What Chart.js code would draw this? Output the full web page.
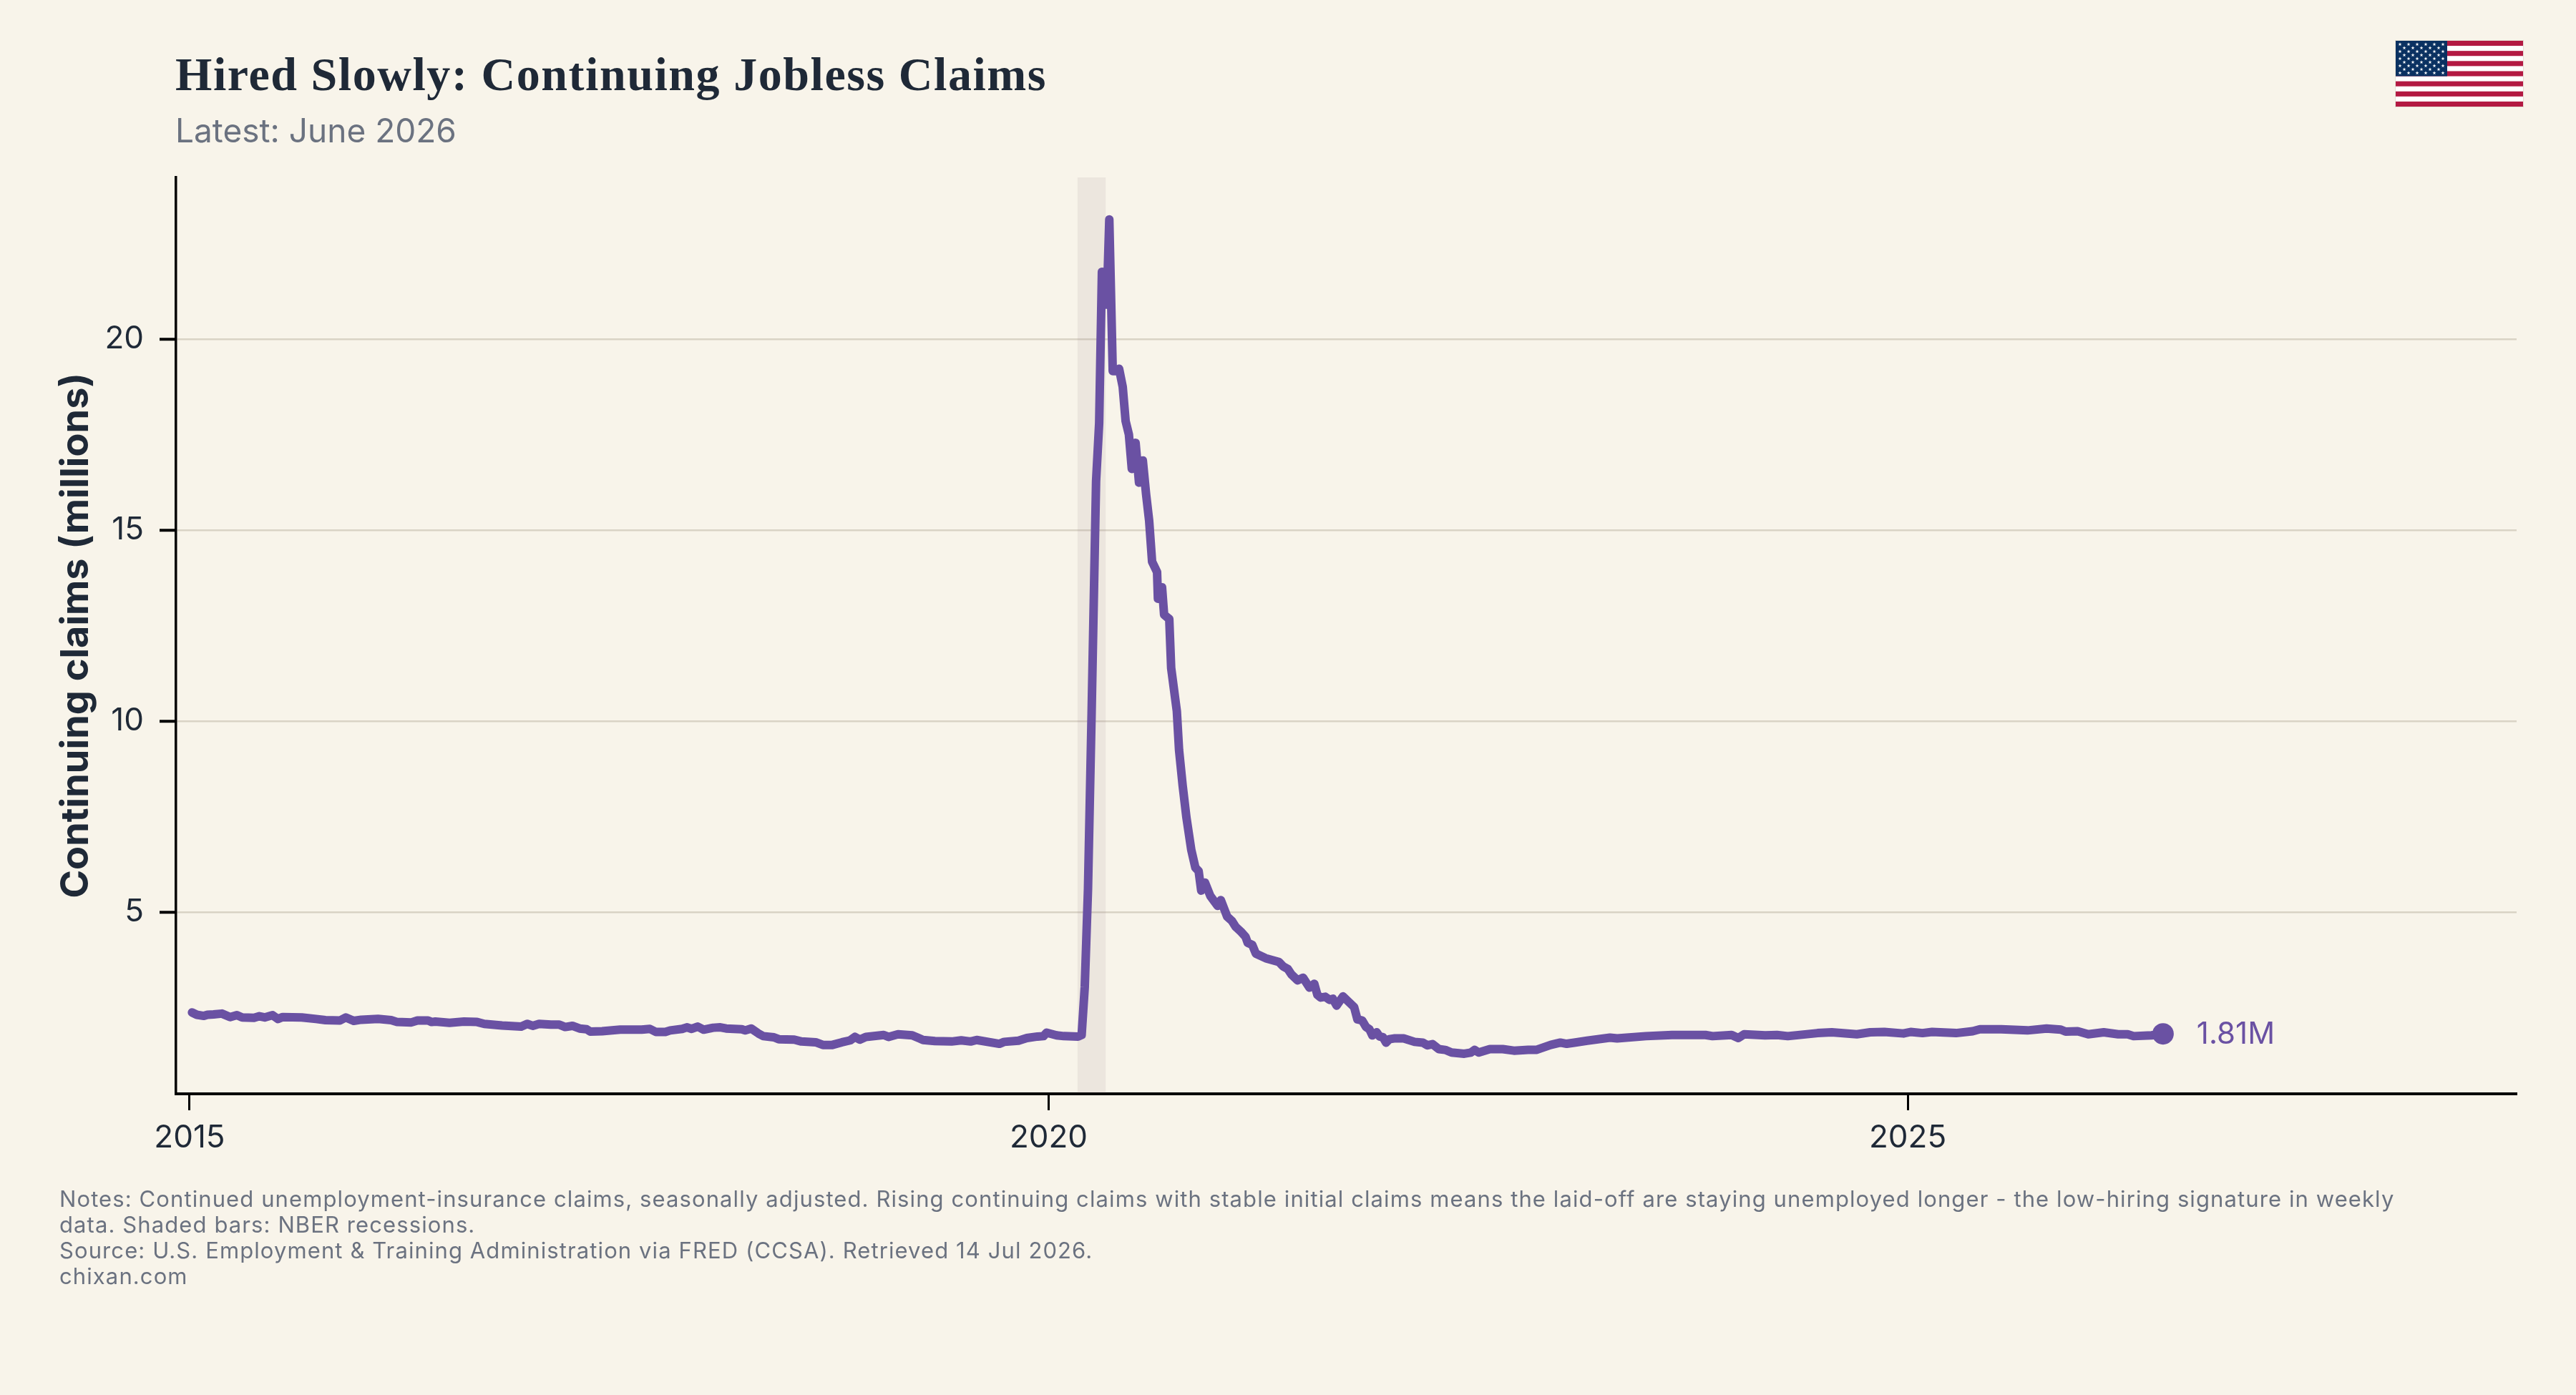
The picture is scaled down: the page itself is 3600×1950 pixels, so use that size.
<!DOCTYPE html>
<html>
<head>
<meta charset="utf-8">
<title>Hired Slowly: Continuing Jobless Claims</title>
<script src="https://cdn.jsdelivr.net/npm/chart.js@4"></script>
<style>
    html, body { margin: 0; padding: 0; background: #f8f4ea; }
    #page { position: relative; width: 3600px; height: 1950px; overflow: hidden; font-family: Inter, sans-serif; }
    #grafico { position: absolute; left: 0; top: 0; }
    #titulo { position: absolute; left: 245px; top: 68px; margin: 0; font: bold 66px/72px "Liberation Serif", serif; letter-spacing: 1.55px; color: #1f2937; white-space: nowrap; }
    #subtitulo { position: absolute; left: 245px; top: 155px; font-size: 46px; line-height: 54px; color: #6b7280; white-space: nowrap; }
    #notas { position: absolute; left: 83px; top: 1658px; font-size: 31px; line-height: 36px; letter-spacing: 1.1px; color: #6b7280; white-space: nowrap; }
    #bandera { position: absolute; left: 3347px; top: 56px; }
</style>
</head>
<body>
<div id="page">
    <canvas id="grafico" width="3600" height="1950"></canvas>
    <h1 id="titulo">Hired Slowly: Continuing Jobless Claims</h1>
    <div id="subtitulo">Latest: June 2026</div>
    <div id="notas">Notes: Continued unemployment-insurance claims, seasonally adjusted. Rising continuing claims with stable initial claims means the laid-off are staying unemployed longer - the low-hiring signature in weekly<br>data. Shaded bars: NBER recessions.<br>Source: U.S. Employment &amp; Training Administration via FRED (CCSA). Retrieved 14 Jul 2026.<br>chixan.com</div>
    <svg id="bandera" width="180" height="94" viewBox="0 0 180 94"></svg>
</div>
<script>
// decimal year of each reading, ten per row, same rows as claims
const dates = [
    2015.014, 2015.042, 2015.083, 2015.104, 2015.139, 2015.188, 2015.236, 2015.275, 2015.306, 2015.375,
    2015.406, 2015.437, 2015.483, 2015.514, 2015.542, 2015.653, 2015.736, 2015.791, 2015.875, 2015.909,
    2015.955, 2015.999, 2016.097, 2016.173, 2016.208, 2016.291, 2016.326, 2016.388, 2016.409, 2016.430,
    2016.513, 2016.597, 2016.673, 2016.715, 2016.819, 2016.930, 2016.965, 2016.997, 2017.034, 2017.103,
    2017.152, 2017.186, 2017.228, 2017.270, 2017.311, 2017.332, 2017.401, 2017.506, 2017.631, 2017.679,
    2017.714, 2017.769, 2017.797, 2017.867, 2017.894, 2017.922, 2017.957, 2017.992, 2018.047, 2018.089,
    2018.123, 2018.214, 2018.234, 2018.269, 2018.311, 2018.339, 2018.401, 2018.429, 2018.519, 2018.561,
    2018.644, 2018.686, 2018.741, 2018.797, 2018.845, 2018.873, 2018.901, 2018.936, 2019.040, 2019.068,
    2019.123, 2019.206, 2019.248, 2019.269, 2019.338, 2019.435, 2019.491, 2019.546, 2019.581, 2019.713,
    2019.741, 2019.824, 2019.873, 2019.935, 2019.970, 2019.988, 2020.046, 2020.088, 2020.171, 2020.192,
    2020.210, 2020.229, 2020.250, 2020.276, 2020.294, 2020.310, 2020.338, 2020.353, 2020.373, 2020.392,
    2020.410, 2020.431, 2020.448, 2020.467, 2020.484, 2020.506, 2020.526, 2020.548, 2020.567, 2020.585,
    2020.602, 2020.631, 2020.636, 2020.660, 2020.672, 2020.702, 2020.713, 2020.746, 2020.759, 2020.780,
    2020.802, 2020.830, 2020.854, 2020.873, 2020.888, 2020.910, 2020.941, 2020.964, 2020.984, 2021.002,
    2021.039, 2021.066, 2021.089, 2021.118, 2021.146, 2021.159, 2021.185, 2021.206, 2021.263, 2021.341,
    2021.364, 2021.392, 2021.412, 2021.449, 2021.481, 2021.518, 2021.546, 2021.564, 2021.583, 2021.610,
    2021.635, 2021.654, 2021.676, 2021.713, 2021.741, 2021.778, 2021.797, 2021.825, 2021.847, 2021.867,
    2021.884, 2021.909, 2021.926, 2021.946, 2021.964, 2021.983, 2022.010, 2022.066, 2022.130, 2022.178,
    2022.205, 2022.234, 2022.271, 2022.308, 2022.345, 2022.419, 2022.457, 2022.479, 2022.503, 2022.568,
    2022.643, 2022.708, 2022.791, 2022.838, 2022.922, 2022.978, 2023.015, 2023.059, 2023.134, 2023.267,
    2023.309, 2023.476, 2023.628, 2023.823, 2023.864, 2023.975, 2024.014, 2024.048, 2024.170, 2024.239,
    2024.302, 2024.475, 2024.558, 2024.704, 2024.781, 2024.864, 2024.975, 2025.017, 2025.086, 2025.142,
    2025.281, 2025.378, 2025.420, 2025.544, 2025.697, 2025.808, 2025.891, 2025.919, 2025.989, 2026.051,
    2026.141, 2026.225, 2026.280, 2026.315, 2026.419, 2026.486
];
// continuing claims in millions
const claims = [
    2.37, 2.31, 2.28, 2.31, 2.32, 2.34, 2.25, 2.30, 2.24, 2.23,
    2.27, 2.24, 2.30, 2.20, 2.25, 2.24, 2.20, 2.17, 2.16, 2.24,
    2.15, 2.18, 2.20, 2.17, 2.12, 2.11, 2.16, 2.16, 2.12, 2.13,
    2.10, 2.13, 2.12, 2.07, 2.03, 2.00, 2.07, 2.02, 2.07, 2.05,
    2.05, 1.99, 2.02, 1.95, 1.93, 1.87, 1.88, 1.92, 1.92, 1.94,
    1.86, 1.86, 1.90, 1.94, 1.98, 1.94, 2.00, 1.92, 1.97, 1.98,
    1.95, 1.93, 1.90, 1.95, 1.82, 1.75, 1.72, 1.67, 1.66, 1.61,
    1.59, 1.52, 1.52, 1.59, 1.64, 1.73, 1.66, 1.73, 1.78, 1.73,
    1.80, 1.77, 1.69, 1.65, 1.62, 1.61, 1.64, 1.61, 1.65, 1.55,
    1.60, 1.63, 1.70, 1.74, 1.75, 1.84, 1.77, 1.75, 1.74, 1.78,
    3.03, 5.60, 10.20, 16.27, 17.80, 21.76, 20.90, 23.13, 19.16, 19.16,
    19.22, 18.75, 17.85, 17.50, 16.60, 17.28, 16.24, 16.82, 15.94, 15.24,
    14.17, 13.90, 13.20, 13.50, 12.78, 12.67, 11.39, 10.26, 9.24, 8.31,
    7.47, 6.63, 6.16, 6.07, 5.56, 5.77, 5.42, 5.28, 5.16, 5.31,
    4.88, 4.77, 4.61, 4.49, 4.35, 4.19, 4.14, 3.91, 3.79, 3.69,
    3.58, 3.51, 3.37, 3.21, 3.28, 3.02, 3.12, 2.83, 2.76, 2.78,
    2.70, 2.73, 2.55, 2.79, 2.67, 2.51, 2.19, 2.16, 1.99, 1.93,
    1.77, 1.85, 1.74, 1.72, 1.58, 1.67, 1.69, 1.69, 1.60, 1.58,
    1.51, 1.54, 1.41, 1.39, 1.32, 1.29, 1.32, 1.39, 1.32, 1.41,
    1.41, 1.37, 1.39, 1.39, 1.52, 1.58, 1.55, 1.58, 1.63, 1.71,
    1.69, 1.75, 1.78, 1.78, 1.75, 1.78, 1.70, 1.80, 1.77, 1.78,
    1.75, 1.83, 1.85, 1.80, 1.85, 1.86, 1.82, 1.86, 1.83, 1.86,
    1.83, 1.88, 1.93, 1.93, 1.90, 1.95, 1.92, 1.87, 1.88, 1.80,
    1.85, 1.80, 1.80, 1.75, 1.77, 1.81
];
const recession = [2020.167, 2020.333];
const xTicks = [2015, 2020, 2025];
const yTicks = [5, 10, 15, 20];
const xRange = [2014.921, 2028.544];
const yRange = [0.24, 24.23];

const TINTA = '#1f2937';
const MORADO = '#6a51a3';

// value label to the right of the last point
const etiquetaFinal = {
    id: 'etiquetaFinal',
    afterDatasetsDraw(chart) {
        const x = chart.scales.x.getPixelForValue(dates.at(-1));
        const y = chart.scales.y.getPixelForValue(claims.at(-1));
        const ctx = chart.ctx;
        ctx.save();
        ctx.font = '42px Inter';
        ctx.fillStyle = MORADO;
        ctx.textAlign = 'left';
        ctx.textBaseline = 'middle';
        ctx.fillText(`${claims.at(-1).toFixed(2)}M`, x + 47, y + 1);
        ctx.restore();
    },
};

new Chart(document.querySelector('#grafico'), {
    type: 'line',
    data: {
        datasets: [
            {
                // last reading marker
                data: [{ x: dates.at(-1), y: claims.at(-1) }],
                pointRadius: 15,
                pointBackgroundColor: MORADO,
                pointBorderWidth: 0,
                showLine: false,
                order: 0,
            },
            {
                data: dates.map((d, i) => ({ x: d, y: claims[i] })),
                borderColor: MORADO,
                borderWidth: 12,
                borderJoinStyle: 'round',
                borderCapStyle: 'round',
                pointRadius: 0,
                tension: 0,
                order: 1,
            },
            {
                // NBER recession band
                data: recession.map((d) => ({ x: d, y: yRange[1] })),
                borderWidth: 0,
                pointRadius: 0,
                backgroundColor: 'rgba(120, 90, 110, 0.09)',
                fill: 'start',
                order: 2,
            },
        ],
    },
    options: {
        responsive: false,
        animation: false,
        events: [],
        layout: { autoPadding: false, padding: { top: 248, right: 83, left: 0, bottom: 0 } },
        plugins: { legend: { display: false }, tooltip: { enabled: false } },
        scales: {
            x: {
                type: 'linear',
                min: xRange[0],
                max: xRange[1],
                afterBuildTicks(scale) { scale.ticks = xTicks.map((v) => ({ value: v })); },
                afterFit(scale) { scale.height = 421; },
                border: { color: '#000', width: 4 },
                grid: { drawOnChartArea: false, tickColor: '#000', tickWidth: 3, tickLength: 23 },
                ticks: {
                    autoSkip: false,
                    maxRotation: 0,
                    padding: 12,
                    color: TINTA,
                    font: { family: 'Inter', size: 44 },
                    callback: (v) => String(v),
                },
            },
            y: {
                min: yRange[0],
                max: yRange[1],
                afterBuildTicks(scale) { scale.ticks = yTicks.map((v) => ({ value: v })); },
                afterFit(scale) { scale.width = 246; },
                border: { color: '#000', width: 3.5 },
                grid: { color: '#d9d3c5', lineWidth: 2.5, tickColor: '#000', tickWidth: 4, tickLength: 23 },
                ticks: {
                    padding: 22,
                    color: TINTA,
                    font: { family: 'Inter', size: 44 },
                },
                title: {
                    display: true,
                    text: 'Continuing claims (millions)',
                    color: TINTA,
                    font: { family: 'Inter', size: 54, weight: '700' },
                    padding: { top: 74, bottom: 0 },
                },
            },
        },
    },
    plugins: [etiquetaFinal],
});

// flag in the top right corner
const bandera = document.querySelector('#bandera');
let marcado = '<rect width="180" height="94" fill="#ffffff" stroke="#dcd6c8" stroke-width="1.5"/>';
for (let i = 0; i < 13; i += 2) {
    marcado += `<rect x="1" y="${1 + i * 92 / 13}" width="178" height="${92 / 13}" fill="#b31942"/>`;
}
marcado += '<rect x="1" y="1" width="72" height="49.5" fill="#0a3161"/>';
const estrella = '0,-2.7 0.7,-0.8 2.6,-0.8 1,0.3 1.6,2.2 0,1 -1.6,2.2 -1,0.3 -2.6,-0.8 -0.7,-0.8';
for (let fila = 0; fila < 9; fila++) {
    const columnas = fila % 2 ? 5 : 6;
    for (let c = 0; c < columnas; c++) {
        const cx = (fila % 2 ? 13 : 7) + c * 12;
        const cy = 6 + fila * 5;
        marcado += `<polygon points="${estrella}" transform="translate(${cx} ${cy})" fill="#ffffff"/>`;
    }
}
bandera.innerHTML = marcado;
</script>
</body>
</html>
